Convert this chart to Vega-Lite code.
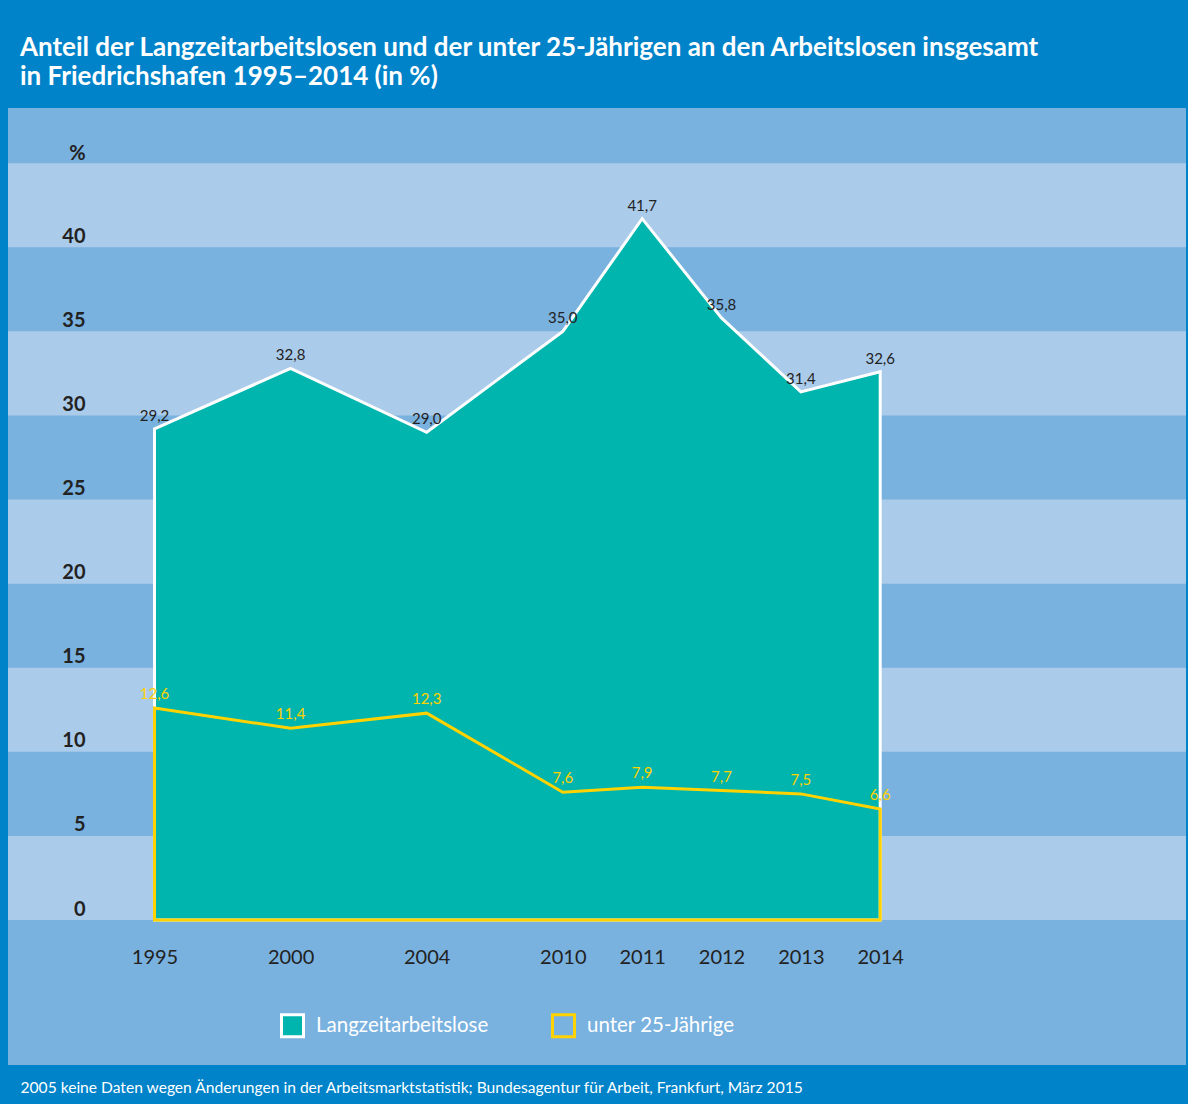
{
  "$schema": "https://vega.github.io/schema/vega-lite/v6.json",
  "width": 1178,
  "height": 957,
  "autosize": {"type": "none"},
  "padding": {"left": 8, "top": 108, "right": 2, "bottom": 39},
  "background": "#0083C9",
  "title": {
    "text": ["Anteil der Langzeitarbeitslosen und der unter 25-Jährigen an den Arbeitslosen insgesamt", "in Friedrichshafen 1995–2014 (in %)"],
    "anchor": "start",
    "frame": "group",
    "dx": 12,
    "offset": -8,
    "baseline": "bottom",
    "color": "white",
    "font": "Lato",
    "fontSize": 26,
    "fontWeight": "bold",
    "lineHeight": 29
  },
  "config": {
    "view": {"fill": "#79B1DF", "stroke": null},
    "locale": {"number": {"decimal": ",", "thousands": ".", "grouping": [3], "currency": ["", " €"]}},
    "axisX": {
      "offset": -145,
      "zindex": 2,
      "domain": false,
      "ticks": false,
      "tickSize": 0,
      "grid": false,
      "labelPadding": 37,
      "labelBaseline": "middle",
      "labelFlush": false,
      "labelOverlap": false,
      "labelFont": "Lato",
      "labelFontSize": 20,
      "labelColor": "#222222",
      "titleX": 12,
      "titleY": 167,
      "titleAlign": "left",
      "titleAnchor": "start",
      "titleBaseline": "middle",
      "titleFont": "Lato",
      "titleFontSize": 15.6,
      "titleFontWeight": "normal",
      "titleColor": "white"
    }
  },
  "data": {
    "values": [
      {"year": 1995, "series": "Langzeitarbeitslose", "value": 29.2},
      {"year": 2000, "series": "Langzeitarbeitslose", "value": 32.8},
      {"year": 2004, "series": "Langzeitarbeitslose", "value": 29.0},
      {"year": 2010, "series": "Langzeitarbeitslose", "value": 35.0},
      {"year": 2011, "series": "Langzeitarbeitslose", "value": 41.7},
      {"year": 2012, "series": "Langzeitarbeitslose", "value": 35.8},
      {"year": 2013, "series": "Langzeitarbeitslose", "value": 31.4},
      {"year": 2014, "series": "Langzeitarbeitslose", "value": 32.6},
      {"year": 1995, "series": "unter 25-Jährige", "value": 12.6},
      {"year": 2000, "series": "unter 25-Jährige", "value": 11.4},
      {"year": 2004, "series": "unter 25-Jährige", "value": 12.3},
      {"year": 2010, "series": "unter 25-Jährige", "value": 7.6},
      {"year": 2011, "series": "unter 25-Jährige", "value": 7.9},
      {"year": 2012, "series": "unter 25-Jährige", "value": 7.7},
      {"year": 2013, "series": "unter 25-Jährige", "value": 7.5},
      {"year": 2014, "series": "unter 25-Jährige", "value": 6.6}
    ]
  },
  "encoding": {
    "y": {
      "field": "value",
      "type": "quantitative",
      "stack": null,
      "scale": {"domain": [-8.62, 48.28], "zero": false, "nice": false},
      "axis": {
        "values": [0, 5, 10, 15, 20, 25, 30, 35, 40],
        "title": "%",
        "orient": "left",
        "offset": -77,
        "zindex": 2,
        "domain": false,
        "ticks": false,
        "tickSize": 0,
        "grid": false,
        "labelOverlap": false,
        "labelFlush": false,
        "labelPadding": 0,
        "labelOffset": -11,
        "labelAlign": "right",
        "labelBaseline": "middle",
        "labelFont": "Lato",
        "labelFontSize": 20,
        "labelFontWeight": "bold",
        "labelColor": "#222222",
        "titleAngle": 0,
        "titleX": -8,
        "titleY": 45,
        "titleAlign": "center",
        "titleBaseline": "middle",
        "titleFont": "Lato",
        "titleFontSize": 20,
        "titleFontWeight": "bold",
        "titleColor": "#222222"
      }
    }
  },
  "layer": [
    {
      "data": {"values": [
        {"value": 0, "value2": 5},
        {"value": 10, "value2": 15},
        {"value": 20, "value2": 25},
        {"value": 30, "value2": 35},
        {"value": 40, "value2": 45}
      ]},
      "mark": {"type": "rect", "color": "#ABCBEA"},
      "encoding": {"y2": {"field": "value2"}}
    },
    {
      "transform": [{"filter": "datum.series === 'Langzeitarbeitslose'"}],
      "mark": {"type": "area", "opacity": 1, "strokeWidth": 3, "strokeJoin": "miter"},
      "encoding": {
        "x": {
          "field": "year",
          "type": "quantitative",
          "scale": {"domain": [1995, 2000, 2004, 2010, 2014], "range": [146.5, 282.6, 418.7, 554.8, 872.2], "zero": false, "nice": false},
          "axis": {"values": [1995, 2000, 2004, 2010, 2011, 2012, 2013, 2014], "format": "d", "title": "2005 keine Daten wegen Änderungen in der Arbeitsmarktstatistik; Bundesagentur für Arbeit, Frankfurt, März 2015"}
        },
        "fill": {
          "field": "series",
          "type": "nominal",
          "scale": {"domain": ["Langzeitarbeitslose", "unter 25-Jährige"], "range": ["#00B5AD", "transparent"]},
          "legend": {
            "title": null,
            "orient": "none",
            "legendX": 272,
            "legendY": 905,
            "direction": "horizontal",
            "columnPadding": 57,
            "symbolType": "square",
            "symbolSize": 484,
            "symbolStrokeWidth": 3,
            "labelOffset": 11,
            "labelLimit": 400,
            "labelFont": "Lato",
            "labelFontSize": 20.5,
            "labelColor": "white"
          }
        },
        "stroke": {
          "field": "series",
          "type": "nominal",
          "scale": {"domain": ["Langzeitarbeitslose", "unter 25-Jährige"], "range": ["#FFFFFF", "#FFD200"]},
          "legend": {
            "title": null,
            "orient": "none",
            "legendX": 272,
            "legendY": 905,
            "direction": "horizontal",
            "columnPadding": 57,
            "symbolType": "square",
            "symbolSize": 484,
            "symbolStrokeWidth": 3,
            "labelOffset": 11,
            "labelLimit": 400,
            "labelFont": "Lato",
            "labelFontSize": 20.5,
            "labelColor": "white"
          }
        }
      }
    },
    {
      "transform": [{"filter": "datum.series === 'unter 25-Jährige'"}],
      "mark": {"type": "area", "opacity": 1, "strokeWidth": 3, "strokeJoin": "miter"},
      "encoding": {
        "x": {
          "field": "year",
          "type": "quantitative",
          "scale": {"domain": [1995, 2000, 2004, 2010, 2014], "range": [146.5, 282.6, 418.7, 554.8, 872.2], "zero": false, "nice": false},
          "axis": {"values": [1995, 2000, 2004, 2010, 2011, 2012, 2013, 2014], "format": "d", "title": "2005 keine Daten wegen Änderungen in der Arbeitsmarktstatistik; Bundesagentur für Arbeit, Frankfurt, März 2015"}
        },
        "fill": {
          "field": "series",
          "type": "nominal",
          "scale": {"domain": ["Langzeitarbeitslose", "unter 25-Jährige"], "range": ["#00B5AD", "transparent"]}
        },
        "stroke": {
          "field": "series",
          "type": "nominal",
          "scale": {"domain": ["Langzeitarbeitslose", "unter 25-Jährige"], "range": ["#FFFFFF", "#FFD200"]}
        }
      }
    },
    {
      "transform": [{"filter": "datum.series === 'Langzeitarbeitslose'"}],
      "mark": {"type": "text", "dy": -13, "baseline": "middle", "align": "center", "font": "Lato", "fontSize": 15, "color": "#222222"},
      "encoding": {
        "x": {
          "field": "year",
          "type": "quantitative",
          "scale": {"domain": [1995, 2000, 2004, 2010, 2014], "range": [146.5, 282.6, 418.7, 554.8, 872.2], "zero": false, "nice": false},
          "axis": {"values": [1995, 2000, 2004, 2010, 2011, 2012, 2013, 2014], "format": "d", "title": "2005 keine Daten wegen Änderungen in der Arbeitsmarktstatistik; Bundesagentur für Arbeit, Frankfurt, März 2015"}
        },
        "text": {"field": "value", "type": "quantitative", "format": ".1f"}
      }
    },
    {
      "transform": [{"filter": "datum.series === 'unter 25-Jährige'"}],
      "mark": {"type": "text", "dy": -14, "baseline": "middle", "align": "center", "font": "Lato", "fontSize": 15, "color": "#FFD200"},
      "encoding": {
        "x": {
          "field": "year",
          "type": "quantitative",
          "scale": {"domain": [1995, 2000, 2004, 2010, 2014], "range": [146.5, 282.6, 418.7, 554.8, 872.2], "zero": false, "nice": false},
          "axis": {"values": [1995, 2000, 2004, 2010, 2011, 2012, 2013, 2014], "format": "d", "title": "2005 keine Daten wegen Änderungen in der Arbeitsmarktstatistik; Bundesagentur für Arbeit, Frankfurt, März 2015"}
        },
        "text": {"field": "value", "type": "quantitative", "format": ".1f"}
      }
    }
  ]
}
